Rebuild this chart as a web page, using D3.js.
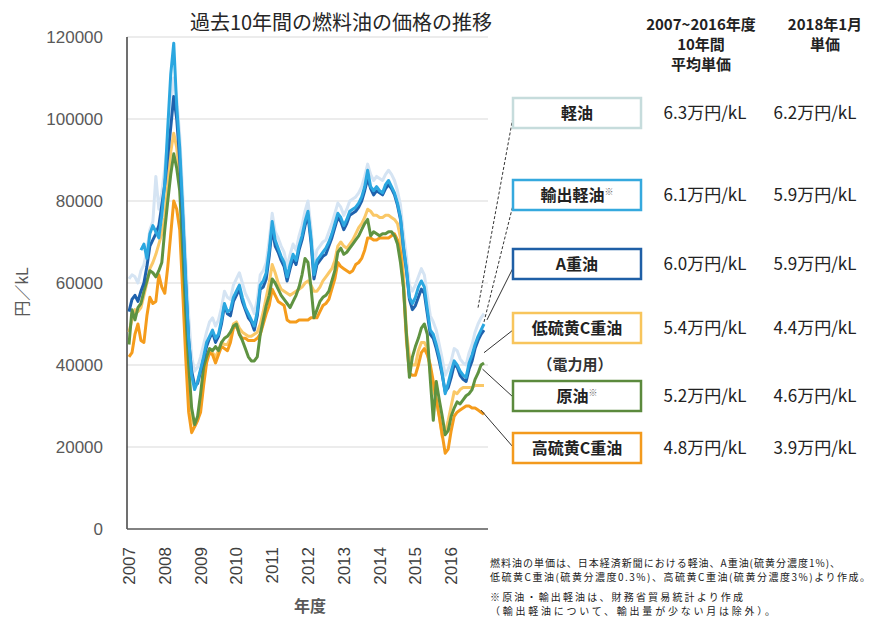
<!DOCTYPE html>
<html>
<head>
<meta charset="utf-8">
<script src="https://cdn.jsdelivr.net/npm/d3@7"></script>
<style>
  body { margin: 0; background: #fff; }
  text { font-family: "Noto Sans CJK JP", "Noto Sans", sans-serif; }
  .num { font-family: "Liberation Sans", Arial, sans-serif; }
</style>
</head>
<body>
<div id="chart"></div>
<script>
////////////////////////////////////////////////////////////////////////
// Data (円/kL, monthly, April 2007 - March 2017)

let fiscalYears = ["2007", "2008", "2009", "2010", "2011", "2012", "2013", "2014", "2015", "2016"];
let yTicks = [0, 20000, 40000, 60000, 80000, 100000, 120000];

let keiyu = [
  61000, 62000, 61500, 60000, 63000, 64500, 68000, 73000, 75000, 86000, 78000, 82000,
  88000, 95000, 103000, 110000, 105000, 96000, 82000, 66000, 52000, 42000, 38500, 39500,
  42000, 45000, 48000, 50500, 51500, 49500, 51000, 54000, 58000, 56500, 56000, 59500,
  61000, 62500, 60000, 57500, 56000, 54500, 52500, 56000, 62000, 63000, 65000, 70500,
  77000, 72500, 71000, 69000, 67500, 64000, 67000, 69500, 68000, 71500, 74000, 77500,
  80000, 73500, 64500, 68000, 69000, 70000, 70500, 72500, 74500, 77000, 79500, 78500,
  76500, 78000, 80000, 80500, 81000, 82000, 83500, 86000, 89000, 86500, 85000, 86000,
  85500, 85000, 86500, 87500, 86500, 85000, 82500, 79000, 72000, 66500, 59500, 58000,
  59500, 61500, 63500, 62000, 57000, 52000, 50500, 48500, 45000, 41500, 37500, 39000,
  41000, 44000, 43500, 41500, 40500, 40000, 43000, 45000, 48000, 50000, 51500, 52500
];

let exportKeiyu = [
  null, null, null, null, 68000, 69500, 66000, 72000, 74000, 72500, 71000, 76500,
  84500, 98000, 111000, 118500, 103000, 93000, 78000, 61000, 46500, 37500, 34000, 36000,
  39000, 42000, 45500, 47000, 48500, 46500, 47500, 51000, 55000, 53000, 53500, 56500,
  58000, 59500, 56500, 54000, 52500, 51000, 49500, 53000, 59500, 60500, 62500, 68000,
  75000, 70500, 68500, 66500, 65000, 61500, 64500, 67000, 65500, 69000, 71500, 75000,
  77500, 71000, 62000, 65500, 66500, 67500, 68500, 70000, 72000, 74500, 77000, 76000,
  74000, 75500, 77500, 78000, 78500, 79500, 81000, 83500, 87500, 83500, 82500, 83500,
  82500, 82000, 84000, 85000, 83500, 82000, 79500, 76000, 69000, 63500, 56500, 55000,
  56500, 59000, 60500, 59000, 53500, 48500, 47500, 45000, 42000, 38000, 33000, 35500,
  38500, 41000, 40000, 38500, 37500, 37000, 40500, 42500, 45000, 47000, 48500, 50000
];

let aJuyu = [
  53000, 56000, 57000, 55500, 58000, 60000, 64000, 69000, 70500, 72000, 74000, 79000,
  84000, 91000, 98000, 105500, 100000, 90000, 76000, 60000, 46000, 38500, 35000, 35500,
  38500, 41500, 44500, 46500, 48000, 45500, 47000, 50000, 54500, 52500, 52000, 55500,
  57000, 58500, 55500, 53500, 51500, 50500, 48500, 52000, 58500, 59000, 61000, 66500,
  73500, 69000, 67500, 65500, 64000, 60500, 63500, 66000, 64500, 68000, 70500, 74000,
  76500, 70000, 61000, 64500, 65500, 66500, 67000, 69000, 71000, 73500, 76000, 75000,
  73000, 74500, 76500, 77000, 77500, 78500, 80000, 82500, 85500, 83000, 81500, 82500,
  82000, 81500, 83000, 84000, 83000, 81500, 79000, 75500, 68500, 63000, 56000, 53500,
  54500, 56500, 58500, 57500, 52500, 47500, 46500, 44000, 41000, 37500, 33500, 34500,
  37000, 40000, 39500, 37500, 36500, 36000, 39000, 41000, 44000, 46000, 47500, 48500
];

let lowSulfurC = [
  48000, 51000, 53500, 53000, 54000, 57000, 60000, 63500, 65000, 67000, 69500, 72000,
  76000, 84000, 92000, 96500, 93000, 85000, 70000, 52000, 36000, 27000, 25000, 26500,
  30000, 36500, 41500, 43500, 43000, 42000, 43500, 45500, 45000, 45000, 46500, 50000,
  50500, 49000, 48000, 47500, 47000, 47000, 47500, 48000, 50000, 53000, 56500, 60000,
  64500, 62500, 60000, 58500, 58000, 57500, 57000, 57500, 58000, 58500, 59000, 60000,
  60500, 59500, 58000, 58000, 59000, 60500, 61500, 62500, 63500, 65500, 69000, 70000,
  69000, 68500, 69500, 70500, 72000, 73500, 74500, 76000, 78000, 77500, 76500, 76500,
  76000, 76000, 76500, 76500, 76000, 75500, 74500, 71000, 62000, 48000, 42000, 40000,
  40000, 43500, 45500, 45500, 44000, 38000, 34000, 31500, 27500, 22500, 23500, 26500,
  30000, 33500, 33000, 34000, 34500, 34500, 34500, 34500, 35000, 35000, 35000, 35000
];

let crudeOil = [
  45000, 53500, 51000, 54000, 55000, 58000, 60500, 63000, 62500, 61500, 63000, 65000,
  73000, 80000, 86500, 91500, 88000, 82500, 68000, 53000, 40000, 29500, 25500, 27500,
  33000, 39500, 42000, 44000, 43500, 44500, 43500, 45500, 46500, 47000, 48000, 49500,
  50000, 47500, 46000, 44000, 42000, 41000, 41000, 42000, 47500, 51000, 54500, 57000,
  61000, 60000, 58500, 57000, 56000, 55000, 54000, 55500, 57000, 59000, 62000, 66000,
  65000, 59000, 51500, 53500, 55500, 56500, 57000, 58000, 60500, 63000, 67500, 68500,
  67000, 67500, 68500, 69500, 70500, 71500, 73000, 74500, 75500, 71500, 72500, 72000,
  71500, 72000, 72000, 72500, 72500, 71500, 69500, 65000, 59000, 47500, 37000, 42000,
  44500, 46500, 49000, 50000, 47500, 36500, 26500, 36000, 31500, 27500, 23000, 24000,
  27500, 29500, 31000, 30500, 31500, 32500, 33000, 34000, 36500, 38000, 40000, 40500
];

let highSulfurC = [
  42000, 43000, 47500, 50000, 46000, 45500, 52000, 56500, 55000, 55500, 62000, 59000,
  57500, 64000, 72000, 80000, 78000, 73000, 58000, 42000, 28500, 23500, 25000, 26500,
  28500, 35000, 40500, 43000, 42500, 40500, 42500, 44500, 44000, 43500, 45500, 49000,
  49500, 47500, 46500, 46500, 46000, 46000, 46000, 46500, 47500, 50000, 52500, 54500,
  58500, 57000, 55500, 55000, 54500, 51000, 50500, 50500, 50500, 51000, 51000, 51000,
  51000, 51500, 51500, 51500, 53000, 54500, 55000, 56000, 58500, 61000, 65000, 64000,
  63500, 63000, 62500, 63000, 64500, 65000, 66000, 68000, 71000, 71000, 70500, 70500,
  71000, 71000, 71000, 71000, 71500, 72000, 70500, 67500, 59000, 46000, 38000, 37500,
  37500, 40000, 43000, 44000, 42500, 40000, 36000, 31500, 27500, 23000, 18500, 19500,
  24000, 27500, 28500, 29000, 29500, 30000, 30000, 29500, 29500, 29000, 28500, 28000
];

// legend rows (top to bottom)
let seriesNames = ["軽油", "輸出軽油", "A重油", "低硫黄C重油", "原油", "高硫黄C重油"];
let seriesMarks = ["", "※", "", "", "※", ""];
let avgPrices = ["6.3万円/kL", "6.1万円/kL", "6.0万円/kL", "5.4万円/kL", "5.2万円/kL", "4.8万円/kL"];
let janPrices = ["6.2万円/kL", "5.9万円/kL", "5.9万円/kL", "4.4万円/kL", "4.6万円/kL", "3.9万円/kL"];
// where each leader line leaves the plot (month index, 円/kL)
let leaderMonth = [117, 119, 120, 119, 118.5, 118];
let leaderValue = [54000, 50500, 51000, 43000, 39000, 29000];

let footnotes = [
  "燃料油の単価は、日本経済新聞における軽油、A重油(硫黄分濃度1%)、",
  "低硫黄C重油(硫黄分濃度0.3%)、高硫黄C重油(硫黄分濃度3%)より作成。",
  "※原油・輸出軽油は、財務省貿易統計より作成",
  "（輸出軽油について、輸出量が少ない月は除外）。"
];

////////////////////////////////////////////////////////////////////////
// Layout

let width = 876, height = 619;
let colors = ["#d5e4f3", "#2ba7e0", "#1f62ad", "#fac867", "#5f9341", "#f59c1c"];
let boxColors = ["#c6dcdc", "#35a9de", "#1f5fa6", "#f8c55c", "#5b8a3d", "#f39a1d"];
let boxTops = [98, 180, 249, 313, 381, 433];
let leaderEnds = [117, 205, 268, 330, 397, 447];
let boxX = 513, boxW = 128, boxH = 30;

let svg = d3.select("#chart").append("svg")
  .attr("width", width)
  .attr("height", height);

let x = d3.scaleLinear().domain([0, 119]).range([129, 484]);
let y = d3.scaleLinear().domain([0, 120000]).range([529, 37]);

// gridlines
svg.append("g")
  .selectAll("line")
  .data(yTicks.slice(1))
  .enter()
  .append("line")
  .attr("x1", 127).attr("x2", 488)
  .attr("y1", d => y(d)).attr("y2", d => y(d))
  .attr("stroke", "#d9d9d9")
  .attr("stroke-width", 1.2);

// y axis labels
let yAxis = svg.append("g")
  .attr("transform", "translate(127,0)")
  .call(d3.axisLeft(y).tickValues(yTicks).tickFormat(d3.format("d")).tickSize(0).tickPadding(24));
yAxis.select(".domain").remove();
yAxis.selectAll("text")
  .attr("class", "num")
  .attr("font-size", 17)
  .attr("fill", "#595959");

// axis lines
svg.append("line")
  .attr("x1", 127).attr("x2", 127).attr("y1", 37).attr("y2", 529)
  .attr("stroke", "#404040").attr("stroke-width", 1.5);
svg.append("line")
  .attr("x1", 127).attr("x2", 488).attr("y1", 529).attr("y2", 529)
  .attr("stroke", "#595959").attr("stroke-width", 1.5);

// x labels, rotated
svg.append("g")
  .selectAll("text")
  .data(fiscalYears)
  .enter()
  .append("text")
  .attr("class", "num")
  .attr("transform", (d, i) => "translate(" + x(i * 12) + ",547) rotate(-90)")
  .attr("text-anchor", "end")
  .attr("dy", "0.35em")
  .attr("font-size", 17)
  .attr("fill", "#404040")
  .text(d => d);

// series lines
let line = d3.line()
  .defined(d => d != null)
  .x((d, i) => x(i))
  .y(d => y(d));

let allSeries = [keiyu, exportKeiyu, aJuyu, lowSulfurC, crudeOil, highSulfurC];
let drawOrder = [0, 3, 5, 4, 2, 1];

svg.append("g")
  .selectAll("path")
  .data(drawOrder)
  .enter()
  .append("path")
  .attr("d", k => line(allSeries[k]))
  .attr("fill", "none")
  .attr("stroke", k => colors[k])
  .attr("stroke-width", 3)
  .attr("stroke-linejoin", "round");

// leader lines
svg.append("g")
  .selectAll("line")
  .data(seriesNames)
  .enter()
  .append("line")
  .attr("x1", (d, i) => x(leaderMonth[i]))
  .attr("y1", (d, i) => y(leaderValue[i]))
  .attr("x2", boxX)
  .attr("y2", (d, i) => leaderEnds[i])
  .attr("stroke", "#333")
  .attr("stroke-width", 1)
  .attr("stroke-dasharray", (d, i) => i < 2 ? "3,2" : null);

// legend boxes
let rows = svg.append("g")
  .selectAll("g")
  .data(seriesNames)
  .enter()
  .append("g");

rows.append("rect")
  .attr("x", boxX)
  .attr("y", (d, i) => boxTops[i])
  .attr("width", boxW)
  .attr("height", boxH)
  .attr("fill", "#fff")
  .attr("stroke", (d, i) => boxColors[i])
  .attr("stroke-width", 2.5);

let label = rows.append("text")
  .attr("x", boxX + boxW / 2)
  .attr("y", (d, i) => boxTops[i] + boxH / 2)
  .attr("dy", "0.36em")
  .attr("text-anchor", "middle")
  .attr("font-size", 16)
  .attr("font-weight", "bold")
  .attr("fill", "#222");
label.append("tspan").text(d => d);
label.append("tspan")
  .attr("font-size", 9)
  .attr("dy", "-0.6em")
  .attr("fill", "#666")
  .text((d, i) => seriesMarks[i]);

rows.append("text")
  .attr("x", 705)
  .attr("y", (d, i) => boxTops[i] + boxH / 2)
  .attr("dy", "0.36em")
  .attr("text-anchor", "middle")
  .attr("font-size", 17)
  .attr("fill", "#222")
  .text((d, i) => avgPrices[i]);

rows.append("text")
  .attr("x", 815)
  .attr("y", (d, i) => boxTops[i] + boxH / 2)
  .attr("dy", "0.36em")
  .attr("text-anchor", "middle")
  .attr("font-size", 17)
  .attr("fill", "#222")
  .text((d, i) => janPrices[i]);

svg.append("text")
  .attr("x", 575).attr("y", 365)
  .attr("dy", "0.36em")
  .attr("text-anchor", "middle")
  .attr("font-size", 15)
  .attr("font-weight", "bold")
  .attr("fill", "#333")
  .text("（電力用）");

// column headers
let head1 = ["2007~2016年度", "10年間", "平均単価"];
let head2 = ["2018年1月", "単価"];
svg.append("g").selectAll("text").data(head1).enter().append("text")
  .attr("x", 701).attr("y", (d, i) => 25 + i * 20)
  .attr("dy", "0.36em")
  .attr("text-anchor", "middle")
  .attr("font-size", 15).attr("font-weight", "bold").attr("fill", "#222")
  .text(d => d);
svg.append("g").selectAll("text").data(head2).enter().append("text")
  .attr("x", 825).attr("y", (d, i) => 25 + i * 20)
  .attr("dy", "0.36em")
  .attr("text-anchor", "middle")
  .attr("font-size", 15).attr("font-weight", "bold").attr("fill", "#222")
  .text(d => d);

// title and axis titles
svg.append("text")
  .attr("x", 341).attr("y", 23)
  .attr("dy", "0.36em")
  .attr("text-anchor", "middle")
  .attr("font-size", 20)
  .attr("fill", "#262626")
  .text("過去10年間の燃料油の価格の推移");

svg.append("text")
  .attr("transform", "translate(22,292) rotate(-90)")
  .attr("dy", "0.36em")
  .attr("text-anchor", "middle")
  .attr("font-size", 16)
  .attr("fill", "#595959")
  .text("円／kL");

svg.append("text")
  .attr("x", 310).attr("y", 606)
  .attr("dy", "0.36em")
  .attr("text-anchor", "middle")
  .attr("font-size", 16)
  .attr("font-weight", "bold")
  .attr("fill", "#595959")
  .text("年度");

// footnotes
let footY = [563, 577, 597, 611];
let footW = [350, 380, 253, 285];
svg.append("g").selectAll("text").data(footnotes).enter().append("text")
  .attr("x", 490)
  .attr("y", (d, i) => footY[i])
  .attr("dy", "0.36em")
  .attr("font-size", 10)
  .attr("textLength", (d, i) => footW[i])
  .attr("lengthAdjust", "spacing")
  .attr("fill", "#222")
  .text(d => d);
</script>
</body>
</html>
